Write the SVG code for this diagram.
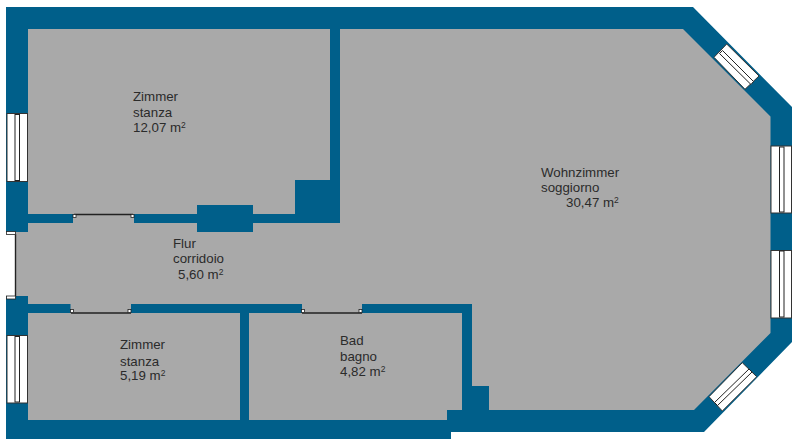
<svg xmlns="http://www.w3.org/2000/svg" width="800" height="446" viewBox="0 0 800 446">
<style>
.wall{fill:#005f8a}
.floor{fill:#a9a9a9}
.win{fill:#fff;stroke:#333;stroke-width:1}
.pane{fill:#fff;stroke:#222;stroke-width:1}
.door{fill:none;stroke:#222;stroke-width:1.4}
.hinge{fill:#fff;stroke:#222;stroke-width:.8}
text{font-family:"Liberation Sans",Arial,sans-serif;font-size:13.3px;fill:#2b2b2b}
.sup{font-size:8.5px}
</style>
<rect width="800" height="446" fill="#fff"/>
<polygon class="wall" points="6,7 693,7 792,107 792,342 704,432 451,432 451,439 6,439 6,299 15,299 15,232 6,232"/>
<polygon class="floor" points="15,232 28,223 28,29 683,29 770.5,116.5 770.5,333 694,410 462,410 462,420 28,420 28,304 15,297"/>
<g class="wall">
<rect x="6" y="296" width="22" height="20"/>
<rect x="28" y="214" width="45" height="9"/>
<rect x="134" y="214" width="63" height="9"/>
<rect x="197" y="205" width="56" height="27"/>
<rect x="253" y="214" width="87" height="9"/>
<rect x="295" y="180" width="45" height="43"/>
<rect x="330" y="29" width="10" height="194"/>
<rect x="6" y="223" width="22" height="9"/>
<rect x="28" y="304" width="42.500" height="9"/>
<rect x="131" y="304" width="171" height="9"/>
<rect x="362" y="304" width="110" height="9"/>
<rect x="462" y="304" width="10" height="116"/>
<rect x="240" y="313" width="9" height="107"/>
<rect x="472" y="386" width="17" height="24"/>
<rect x="447" y="410" width="42" height="22"/>
<rect x="28" y="420" width="423" height="19"/>
</g>
<g id="window-left-top"><rect class="win" x="7" y="113.500" width="20.500" height="68"/><rect class="pane" x="15" y="114.500" width="4.500" height="66"/></g>
<g id="window-left-bottom"><rect class="win" x="7" y="335.500" width="20.500" height="67.500"/><rect class="pane" x="15" y="336.500" width="4.500" height="65.500"/></g>
<g id="window-right-top"><rect class="win" x="771" y="146" width="20.500" height="67"/><rect class="pane" x="779.500" y="147" width="4.500" height="65"/></g>
<g id="window-right-bottom"><rect class="win" x="771" y="250.500" width="20.500" height="67.500"/><rect class="pane" x="779.500" y="251" width="4.500" height="66"/></g>
<g id="window-diag-top"><polygon class="win" points="726.700,44 714,57.300 745,89.300 759,76"/><polygon class="pane" points="722.500,50.500 719.500,53.500 751,84.500 753.500,81.500"/></g>
<g id="window-diag-bottom"><polygon class="win" points="742.300,362.700 756.700,376.700 722.300,411 709,396.700"/><polygon class="pane" points="749,369 752,372 717.500,405.500 714.500,402.500"/></g>
<g id="doors">
<path class="door" d="M15.500 234V297"/>
<rect class="hinge" x="6.500" y="231.500" width="9" height="3"/>
<rect class="hinge" x="6.500" y="296" width="9" height="3"/>
<path class="door" d="M74 214.500H133"/>
<rect class="hinge" x="73" y="214.500" width="3" height="3"/>
<rect class="hinge" x="131" y="214.500" width="3" height="3"/>
<path class="door" d="M71 313H131"/>
<rect class="hinge" x="70.500" y="309.500" width="3" height="3"/>
<rect class="hinge" x="128" y="309.500" width="3" height="3"/>
<path class="door" d="M302 313H362"/>
<rect class="hinge" x="301.500" y="309.500" width="3" height="3"/>
<rect class="hinge" x="359" y="309.500" width="3" height="3"/>
</g>
<g id="labels">
<text x="133" y="101">Zimmer</text><text x="133" y="117">stanza</text><text x="133" y="132">12,07 m<tspan class="sup" dy="-4">2</tspan></text>
<text x="541" y="177">Wohnzimmer</text><text x="541" y="192">soggiorno</text><text x="566" y="207">30,47 m<tspan class="sup" dy="-4">2</tspan></text>
<text x="173" y="248">Flur</text><text x="173" y="263">corridoio</text><text x="178" y="279">5,60 m<tspan class="sup" dy="-4">2</tspan></text>
<text x="120" y="349">Zimmer</text><text x="120" y="366">stanza</text><text x="120" y="380">5,19 m<tspan class="sup" dy="-4">2</tspan></text>
<text x="340" y="345">Bad</text><text x="340" y="361">bagno</text><text x="340" y="376">4,82 m<tspan class="sup" dy="-4">2</tspan></text>
</g>
</svg>
